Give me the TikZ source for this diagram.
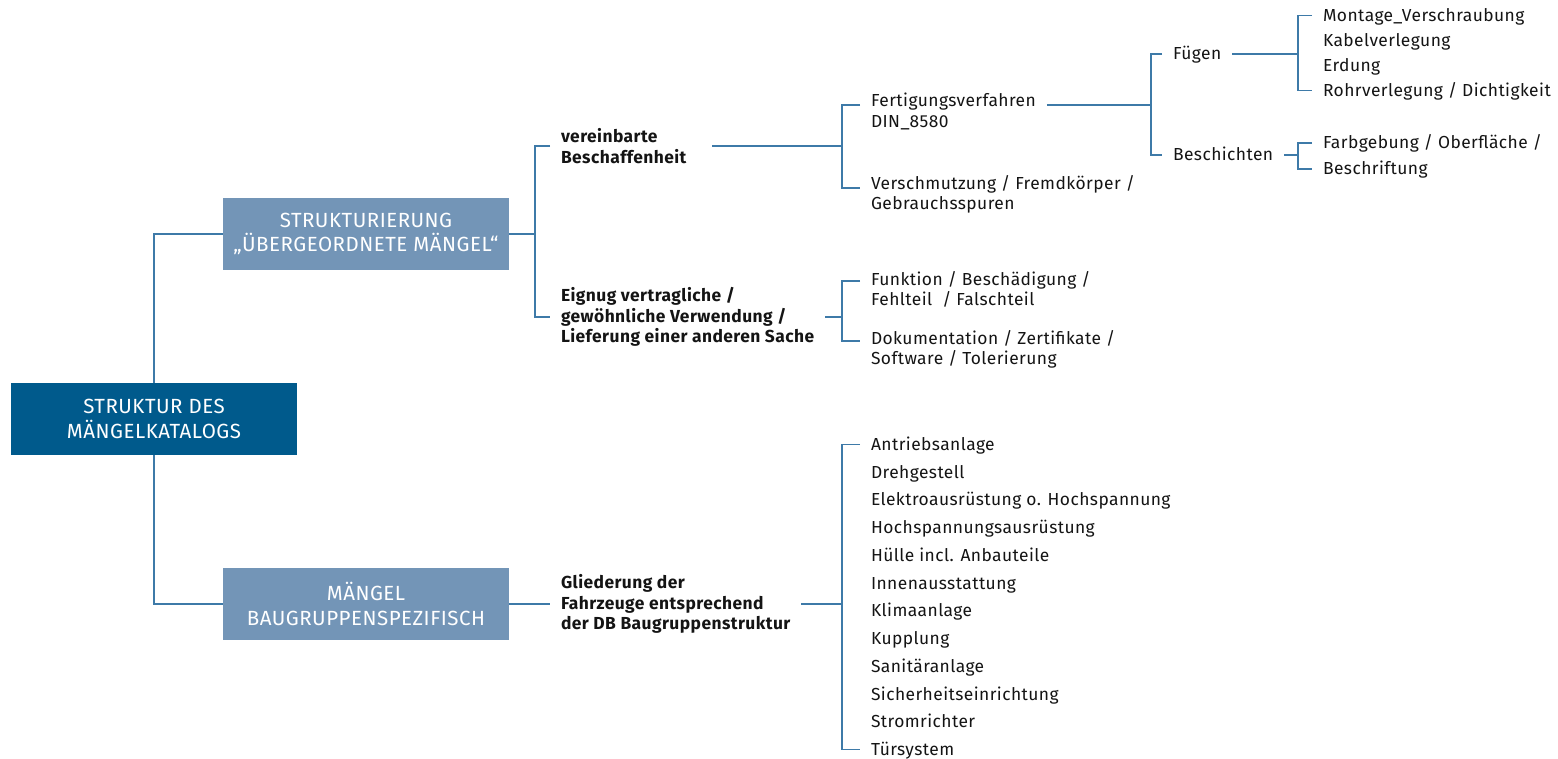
\documentclass[tikz,border=0pt]{standalone}
\usepackage{fontspec}
\setmainfont{Fira Sans}[LetterSpace=2.5]
\definecolor{rootblue}{RGB}{0,90,140}
\definecolor{subblue}{RGB}{115,149,183}
\definecolor{linkblue}{RGB}{62,122,168}
\definecolor{txt}{RGB}{20,20,20}
\newcommand{\listfont}{\fontsize{17.4}{20.5}\selectfont}
\newcommand{\boxfont}{\fontsize{20.5}{24.5}\selectfont}

\begin{document}
\begin{tikzpicture}[x=1pt,y=-1pt,
rootbox/.style={fill=rootblue,text=white,minimum width=286pt,minimum height=72pt,inner sep=0pt,align=center,font=\boxfont},
subbox/.style={rootbox,fill=subblue},
grp/.style={anchor=west,inner sep=0pt,outer xsep=11pt,align=left,font=\listfont\bfseries,text=txt},
leaf/.style={anchor=west,inner sep=0pt,outer xsep=11pt,text height=12pt,text depth=0pt,font=\listfont,text=txt},
leafii/.style={anchor=north west,inner sep=0pt,outer xsep=11pt,align=left,font=\listfont,text=txt},
link/.style={draw=linkblue,line width=1.5pt}]
\useasboundingbox (0,0) rectangle (1558,759);

\node[rootbox](root) at (154,419) {STRUKTUR DES\\MÄNGELKATALOGS};
\node[subbox](struk) at (366,234) {STRUKTURIERUNG\\„ÜBERGEORDNETE MÄNGEL“};
\node[subbox](maeng) at (366,604) {MÄNGEL\\BAUGRUPPENSPEZIFISCH};

\node[grp](ver) at (550,146) {vereinbarte\\Beschaffenheit};
\node[grp](eig) at (550,317) {Eignug vertragliche /\\gewöhnliche Verwendung /\\Lieferung einer anderen Sache};
\node[grp](glied) at (550,604) {Gliederung der\\Fahrzeuge entsprechend\\der DB Baugruppenstruktur};

\node[leafii](fert) at (860,93) {Fertigungsverfahren\\DIN\_8580};
\node[leafii](versch) at (860,175) {Verschmutzung / Fremdkörper /\\Gebrauchsspuren};
\node[leafii](funk) at (860,271) {Funktion / Beschädigung /\\Fehlteil~ / Falschteil};
\node[leafii](doku) at (860,330) {Dokumentation / Zertifikate /\\Software / Tolerierung};

\node[leaf](fueg) at (1162,54) {Fügen};
\node[leaf](besch) at (1162,155) {Beschichten};

\node[leaf](m1) at (1312,15.5) {Montage\_Verschraubung};
\node[leaf](m2) at (1312,40.5) {Kabelverlegung};
\node[leaf](m3) at (1312,65.5) {Erdung};
\node[leaf](m4) at (1312,90.5) {Rohrverlegung / Dichtigkeit};
\node[leaf](farb) at (1312,143) {Farbgebung / Oberfläche /};
\node[leaf](beschr) at (1312,169) {Beschriftung};

\foreach \t [count=\i] in {Antriebsanlage,Drehgestell,Elektroausrüstung o. Hochspannung,Hochspannungsausrüstung,Hülle incl. Anbauteile,Innenausstattung,Klimaanlage,Kupplung,Sanitäranlage,Sicherheitseinrichtung,Stromrichter,Türsystem}
  \node[leaf](b\i) at (860,{444.5+27.73*(\i-1)}) {\t};

\coordinate (j1) at (535,234);
\coordinate (j2) at (842,146);
\coordinate (j3) at (1151,105);
\coordinate (j4) at (1298,54);
\coordinate (j5) at (1298,155);
\coordinate (j6) at (842,317);
\coordinate (j7) at (842,604);

\draw[link] (root.north) |- (struk.west);
\draw[link] (root.south) |- (maeng.west);
\draw[link] (struk.east) -- (j1);
\draw[link] (ver.west) -| (j1) |- (eig.west);
\draw[link] (maeng.east) -- (glied.west);
\draw[link] ([xshift=15pt]ver.east) -- (j2);
\draw[link] ([yshift=-12pt]fert.north west) -| (j2) |- ([yshift=-13pt]versch.north west);
\draw[link] (eig.east) -- (j6);
\draw[link] ([yshift=-10pt]funk.north west) -| (j6) |- ([yshift=-11pt]doku.north west);
\draw[link] (glied.east) -- (j7);
\draw[link] (b1.west) -| (j7) |- (b12.west);
\draw[link] ([yshift=-12pt]fert.north east) -- (j3);
\draw[link] (fueg.west) -| (j3) |- (besch.west);
\draw[link] (fueg.east) -- (j4);
\draw[link] (m1.west) -| (j4) |- (m4.west);
\draw[link] (besch.east) -- (j5);
\draw[link] (farb.west) -| (j5) |- (beschr.west);

\end{tikzpicture}
\end{document}
